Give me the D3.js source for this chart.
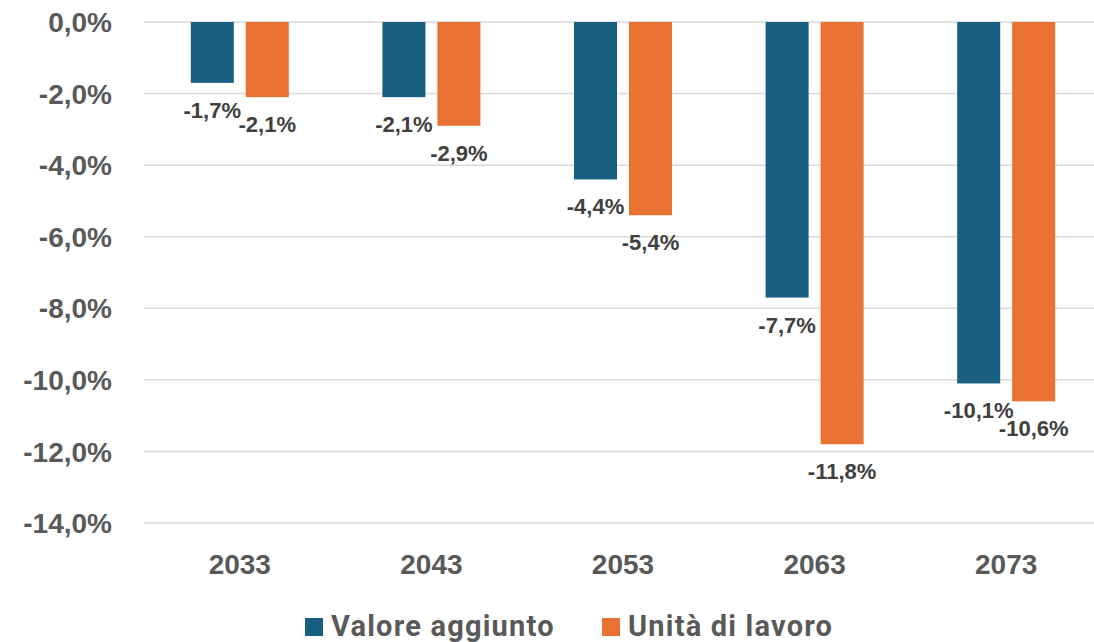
<!DOCTYPE html>
<html>
<head>
<meta charset="utf-8">
<script src="https://cdn.jsdelivr.net/npm/d3@7"></script>
<style>
  html, body { margin: 0; padding: 0; background: #fff; }
  svg { display: block; }
</style>
</head>
<body>
<svg id="chart" width="1094" height="642"></svg>
<script>
// ── data ─────────────────────────────────────────────
const years = ['2033', '2043', '2053', '2063', '2073'];
const seriesNames = ['Valore aggiunto', 'Unità di lavoro'];
const valoreAggiunto = [-1.7, -2.1, -4.4, -7.7, -10.1];
const unitaLavoro = [-2.1, -2.9, -5.4, -11.8, -10.6];
const yTicks = [0, -2, -4, -6, -8, -10, -12, -14];
const colors = ['#175E81', '#E97132'];

const W = 1094, H = 642;
const svg = d3.select('#chart');

const x = d3.scaleBand().domain(years).range([144, 1102]).paddingInner(0);
const inner = d3.scaleBand().domain(seriesNames)
  .range([46.8, 144.8]).paddingInner(12 / 55).paddingOuter(0);
const y = d3.scaleLinear().domain([-14, 0]).range([523, 22]);

const fmt = v => d3.format('.1f')(v).replace('.', ',').replace('−', '-') + '%';

// gridlines
svg.append('g').selectAll('line').data(yTicks).join('line')
  .attr('x1', 144).attr('x2', W)
  .attr('y1', d => y(d)).attr('y2', d => y(d))
  .attr('stroke', '#D9D9D9').attr('stroke-width', 1.5);

// y labels
svg.append('g').selectAll('text').data(yTicks).join('text')
  .attr('x', 112).attr('y', d => y(d))
  .attr('dy', '0.36em')
  .attr('text-anchor', 'end')
  .attr('font-family', '"Liberation Sans", Arial, sans-serif')
  .attr('font-weight', 'bold').attr('font-size', 28)
  .attr('fill', '#595959')
  .text(d => fmt(d));

// x labels
svg.append('g').selectAll('text').data(years).join('text')
  .attr('x', d => x(d) + x.bandwidth() / 2).attr('y', 574)
  .attr('text-anchor', 'middle')
  .attr('font-family', '"Liberation Sans", Arial, sans-serif')
  .attr('font-weight', 'bold').attr('font-size', 28)
  .attr('fill', '#595959')
  .text(d => d);

// bars
const rows = [];
years.forEach((yr, i) => {
  rows.push({ year: yr, s: 0, v: valoreAggiunto[i] });
  rows.push({ year: yr, s: 1, v: unitaLavoro[i] });
});

const g = svg.append('g');
g.selectAll('rect').data(rows).join('rect')
  .attr('x', d => x(d.year) + inner(seriesNames[d.s]))
  .attr('width', inner.bandwidth())
  .attr('y', y(0))
  .attr('height', d => y(d.v) - y(0))
  .attr('fill', d => colors[d.s]);

// data labels
g.selectAll('text').data(rows).join('text')
  .attr('x', d => x(d.year) + inner(seriesNames[d.s]) + inner.bandwidth() / 2)
  .attr('y', d => y(d.v) + 35)
  .attr('text-anchor', 'middle')
  .attr('font-family', '"Liberation Sans", Arial, sans-serif')
  .attr('font-weight', 'bold').attr('font-size', 22)
  .attr('fill', '#404040')
  .text(d => fmt(d.v));

// legend
const legendX = [305, 602];
const lg = svg.append('g').selectAll('g').data(seriesNames).join('g')
  .attr('transform', (d, i) => `translate(${legendX[i]},618)`);
lg.append('rect').attr('width', 18).attr('height', 18)
  .attr('fill', (d, i) => colors[i]);
lg.append('text').attr('x', 26).attr('y', 18)
  .attr('font-family', 'Roboto, "Noto Sans", sans-serif')
  .attr('font-weight', 'bold').attr('font-size', 29)
  .attr('letter-spacing', 1.2)
  .attr('fill', '#595959')
  .text(d => d);
</script>
</body>
</html>
